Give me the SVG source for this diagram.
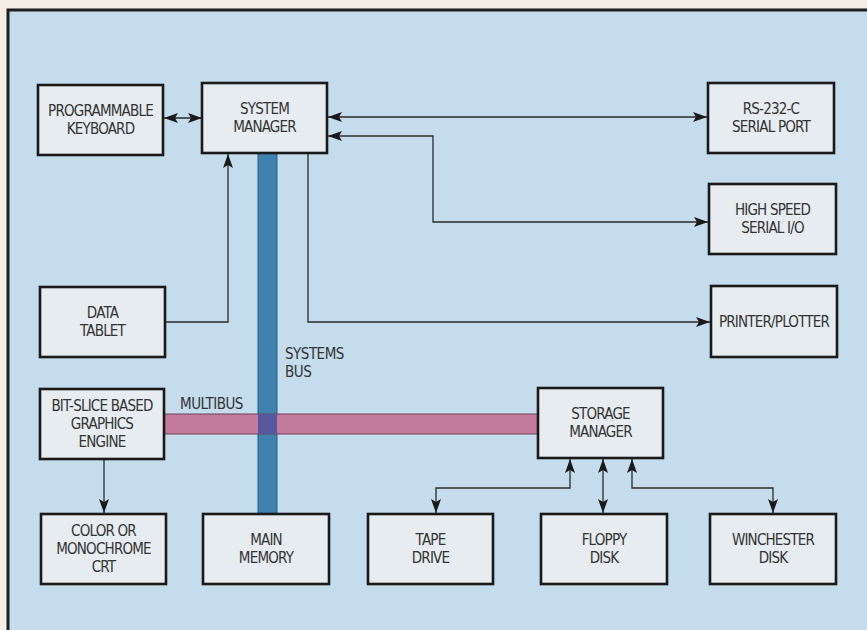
<svg xmlns="http://www.w3.org/2000/svg" width="867" height="630" viewBox="0 0 867 630">
<defs>
<marker id="ah" viewBox="0 0 14 10" refX="14" refY="5" markerWidth="14" markerHeight="10" markerUnits="userSpaceOnUse" orient="auto-start-reverse">
<path d="M0,0 L14,5 L0,10 L3,5 Z" fill="#1a1a1a"/>
</marker>
<style>
.box{fill:#e6ecf0;stroke:#1a1a1a;stroke-width:2.6}
.t{font-family:"Liberation Sans Narrow","DejaVu Sans Condensed","Liberation Sans",sans-serif;font-size:15px;letter-spacing:-0.8px;fill:#333;text-anchor:middle}
.lbl{font-family:"Liberation Sans Narrow","DejaVu Sans Condensed","Liberation Sans",sans-serif;font-size:15px;letter-spacing:-0.5px;fill:#333}
.c{fill:none;stroke:#2a2a2a;stroke-width:1.3}
.a2{marker-start:url(#ah);marker-end:url(#ah)}
.a1{marker-end:url(#ah)}
</style>
</defs>
<rect x="0" y="0" width="867" height="630" fill="#f3ede4"/>
<rect x="8" y="10" width="870" height="630" fill="#c4dcec" stroke="#1e1e1e" stroke-width="3"/>

<g id="buses">
<rect x="258" y="153" width="19" height="361" fill="#3f82b0" stroke="#2d5f80" stroke-width="1"/>
<rect x="164" y="414" width="374" height="20" fill="#c27b9c" stroke="#6e4058" stroke-width="1"/>
<rect x="258" y="414" width="19" height="20" fill="#57579c"/>
<text class="lbl" x="285" y="359">SYSTEMS</text>
<text class="lbl" x="285" y="377">BUS</text>
<text class="lbl" x="180" y="409">MULTIBUS</text>
</g>

<g id="connectors">
<line class="c a2" x1="164" y1="118" x2="202" y2="118"/>
<line class="c a2" x1="328" y1="117" x2="707" y2="117"/>
<polyline class="c a2" points="328,136 433,136 433,222 708,222"/>
<polyline class="c a1" points="165,322 228,322 228,154"/>
<polyline class="c a1" points="308,153 308,322 710,322"/>
<line class="c a1" x1="104" y1="459" x2="104" y2="513"/>
<polyline class="c a2" points="570,459 570,488 436,488 436,513"/>
<line class="c a2" x1="603" y1="459" x2="603" y2="513"/>
<polyline class="c a2" points="632,459 632,488 773,488 773,513"/>
</g>

<g id="keyboard"><rect class="box" x="38" y="85" width="125" height="70"/><text class="t" x="100.5" y="116">PROGRAMMABLE</text><text class="t" x="100.5" y="133.5">KEYBOARD</text></g>
<g id="system-manager"><rect class="box" x="202" y="83" width="125" height="70"/><text class="t" x="264.5" y="114">SYSTEM</text><text class="t" x="264.5" y="131.5">MANAGER</text></g>
<g id="rs232"><rect class="box" x="708" y="83" width="126" height="70"/><text class="t" x="771" y="114">RS-232-C</text><text class="t" x="771" y="131.5">SERIAL PORT</text></g>
<g id="hs-serial"><rect class="box" x="709" y="184" width="127" height="70"/><text class="t" x="772.5" y="215">HIGH SPEED</text><text class="t" x="772.5" y="232.5">SERIAL I/O</text></g>
<g id="data-tablet"><rect class="box" x="40" y="287" width="125" height="70"/><text class="t" x="102.5" y="318">DATA</text><text class="t" x="102.5" y="335.5">TABLET</text></g>
<g id="printer"><rect class="box" x="711" y="286" width="126" height="71"/><text class="t" x="774" y="327">PRINTER/PLOTTER</text></g>
<g id="graphics-engine"><rect class="box" x="40" y="389" width="124" height="70"/><text class="t" x="102" y="411">BIT-SLICE BASED</text><text class="t" x="102" y="429">GRAPHICS</text><text class="t" x="102" y="447">ENGINE</text></g>
<g id="storage-manager"><rect class="box" x="538" y="388" width="125" height="70"/><text class="t" x="600.5" y="419">STORAGE</text><text class="t" x="600.5" y="436.5">MANAGER</text></g>
<g id="crt"><rect class="box" x="41" y="514" width="125" height="70"/><text class="t" x="103.5" y="536">COLOR OR</text><text class="t" x="103.5" y="554">MONOCHROME</text><text class="t" x="103.5" y="572">CRT</text></g>
<g id="main-memory"><rect class="box" x="203" y="514" width="126" height="70"/><text class="t" x="266" y="545">MAIN</text><text class="t" x="266" y="562.5">MEMORY</text></g>
<g id="tape"><rect class="box" x="368" y="514" width="125" height="70"/><text class="t" x="430.5" y="545">TAPE</text><text class="t" x="430.5" y="562.5">DRIVE</text></g>
<g id="floppy"><rect class="box" x="541" y="514" width="126" height="70"/><text class="t" x="604" y="545">FLOPPY</text><text class="t" x="604" y="562.5">DISK</text></g>
<g id="winchester"><rect class="box" x="710" y="514" width="126" height="70"/><text class="t" x="773" y="545">WINCHESTER</text><text class="t" x="773" y="562.5">DISK</text></g>
</svg>
